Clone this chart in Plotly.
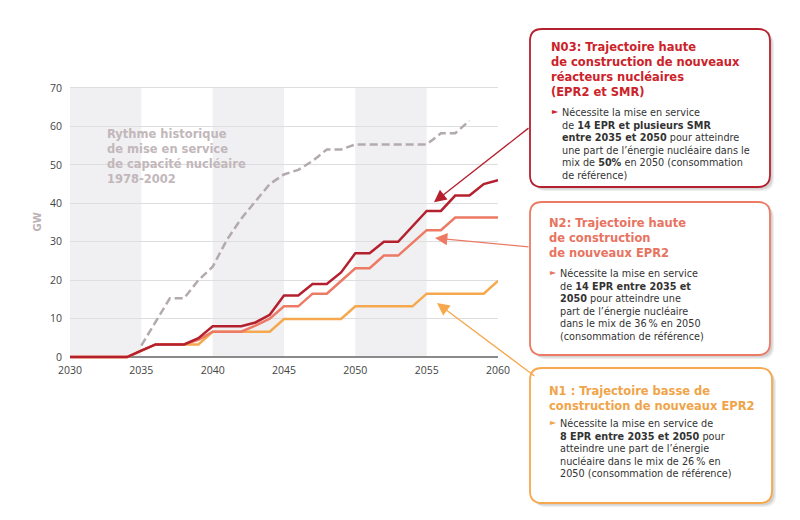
import plotly.graph_objects as go

# trajectories, GW installed per year
years = list(range(2030, 2061))
n1 = [0, 0, 0, 0, 0, 1.65, 3.3, 3.3, 3.3, 3.3, 6.6, 6.6, 6.6, 6.6, 6.6,
      9.9, 9.9, 9.9, 9.9, 9.9, 13.2, 13.2, 13.2, 13.2, 13.2,
      16.5, 16.5, 16.5, 16.5, 16.5, 19.8]
n2 = [0, 0, 0, 0, 0, 1.65, 3.3, 3.3, 3.3, 4.5, 6.6, 6.6, 6.6, 8.2, 10,
      13.2, 13.2, 16.5, 16.5, 19.8, 23.1, 23.1, 26.4, 26.4, 29.7,
      33, 33, 36.3, 36.3, 36.3, 36.3]
n03 = [0, 0, 0, 0, 0, 1.65, 3.3, 3.3, 3.3, 4.9, 8, 8, 8, 9, 11,
       16, 16, 19, 19, 22, 27, 27, 30, 30, 34,
       38, 38, 42, 42, 45, 46]

# historical pace 1978-2002, shifted to start in 2035
hist_years = list(range(2035, 2059))
hist = [3, 9, 15.3, 15.3, 20, 23.5, 30.5, 36, 40.5, 45, 47.5, 48.7, 51, 54, 54,
        55.3, 55.3, 55.3, 55.3, 55.3, 55.3, 58.2, 58.2, 61.5]

x_ticks = [2030, 2035, 2040, 2045, 2050, 2055, 2060]
shaded = [(2030, 2035), (2040, 2045), (2050, 2055)]

DARK = '#b5202e'
SALMON = '#ec7a64'
ORANGE = '#f6a84e'
HIST = '#b3aaae'

# the page body has an 8px margin, so the figure is a bit smaller and
# everything is laid out in window pixels minus that offset
OFF = 8
W, H = 800 - OFF, 520 - OFF
L, T = 70 - OFF, 86 - OFF
PW, PH = 428, 273
R, B = W - L - PW, H - T - PH


def px(x):
    return (x - OFF - L) / PW


def py(y):
    return (T + PH - (y - OFF)) / PH


def dx(x):
    # window pixel x -> data year
    return 2030 + (x - 70) / (PW / 30)


def dy(y):
    # window pixel y -> data GW
    return (357 - y) / 3.843


def rounded(x0, y0, x1, y1, r):
    pts = [('M', x0 + r, y0), ('L', x1 - r, y0), ('Q', x1, y0, x1, y0 + r),
           ('L', x1, y1 - r), ('Q', x1, y1, x1 - r, y1), ('L', x0 + r, y1),
           ('Q', x0, y1, x0, y1 - r), ('L', x0, y0 + r), ('Q', x0, y0, x0 + r, y0)]
    out = ''
    for p in pts:
        coords = p[1:]
        s = []
        for i in range(0, len(coords), 2):
            s.append(f'{px(coords[i]):.5f},{py(coords[i + 1]):.5f}')
        out += p[0] + ' ' + ' '.join(s) + ' '
    return out + 'Z'


fig = go.Figure()

fig.add_trace(go.Scatter(x=hist_years, y=hist, mode='lines',
                         line=dict(color=HIST, width=2.5, dash='8px,4px')))
fig.add_trace(go.Scatter(x=years, y=n1, mode='lines', line=dict(color=ORANGE, width=2.5)))
fig.add_trace(go.Scatter(x=years, y=n2, mode='lines', line=dict(color=SALMON, width=2.5)))
fig.add_trace(go.Scatter(x=years, y=n03, mode='lines', line=dict(color=DARK, width=2.5)))

shapes = []
for a, b in shaded:
    shapes.append(dict(type='rect', xref='x', yref='y', x0=a, x1=b, y0=0, y1=70,
                       fillcolor='#f0eff1', line=dict(width=0), layer='below'))

boxes = [
    ((530, 29, 770, 187), DARK),
    ((530, 202, 770, 355), SALMON),
    ((530, 368, 772, 503), ORANGE),
]
for (x0, y0, x1, y1), col in boxes:
    for off, alpha in [(4, 0.07), (2.5, 0.11)]:
        shapes.append(dict(type='path', xref='paper', yref='paper',
                           path=rounded(x0 + off, y0 + off, x1 + off, y1 + off, 12),
                           fillcolor=f'rgba(0,0,0,{alpha})', line=dict(width=0)))
    shapes.append(dict(type='path', xref='paper', yref='paper',
                       path=rounded(x0, y0, x1, y1, 12),
                       fillcolor='white', line=dict(color=col, width=1.8)))

TITLE_FONT = 'DejaVu Sans'
ann = []


def text(x, y, s, size, color, bold=False):
    ann.append(dict(xref='paper', yref='paper', x=px(x), y=py(y), text=f'<b>{s}</b>' if bold else s,
                    showarrow=False, xanchor='left', yanchor='top', align='left',
                    font=dict(family=TITLE_FONT, size=size, color=color)))


text(105, 124.5, 'Rythme historique<br>de mise en service<br>de capacité nucléaire<br>1978-2002',
     11.5, '#c2b7bb', bold=True)

text(549, 38.5, 'N03: Trajectoire haute<br>de construction de nouveaux<br>réacteurs nucléaires<br>(EPR2 et SMR)',
     11.5, '#cc2229', bold=True)
text(560, 104.7, 'Nécessite la mise en service<br>de <b>14 EPR et plusieurs SMR</b><br>'
     '<b>entre 2035 et 2050</b> pour atteindre<br>une part de l’énergie nucléaire dans le<br>'
     'mix de <b>50%</b> en 2050 (consommation<br>de référence)', 9.7, '#333333')
text(550, 105.2, '►', 8, '#cc2229')

text(547, 213.5, 'N2: Trajectoire haute<br>de construction<br>de nouveaux EPR2',
     11.5, '#e8735f', bold=True)
text(558, 265.7, 'Nécessite la mise en service<br>de <b>14 EPR entre 2035 et</b><br>'
     '<b>2050</b> pour atteindre une<br>part de l’énergie nucléaire<br>'
     'dans le mix de 36\u202f% en 2050<br>(consommation de référence)', 9.7, '#333333')
text(548, 266.2, '►', 8, '#e8735f')

text(547, 381.5, 'N1 : Trajectoire basse de<br>construction de nouveaux EPR2',
     11.5, '#f0a44a', bold=True)
text(558, 415.7, 'Nécessite la mise en service de<br><b>8 EPR entre 2035 et 2050</b> pour<br>'
     'atteindre une part de l’énergie<br>nucléaire dans le mix de 26\u202f% en<br>'
     '2050 (consommation de référence)', 9.7, '#333333')
text(548, 416.2, '►', 8, '#f0a44a')

# axis title
ann.append(dict(xref='paper', yref='paper', x=px(29), y=py(222), text='<b>GW</b>', textangle=-90,
                showarrow=False, font=dict(family=TITLE_FONT, size=10, color='#bbb2b6')))

# pointers from the boxes to the curves
arrows = [
    ((434, 202.3), (530, 127), DARK),
    ((435, 238), (530, 247), SALMON),
    ((437, 303), (536, 377), ORANGE),
]
for (hx, hy), (tx, ty), col in arrows:
    ann.append(dict(xref='x', yref='y', axref='x', ayref='y', x=dx(hx), y=dy(hy),
                    ax=dx(tx), ay=dy(ty), text='', showarrow=True, arrowhead=2,
                    arrowsize=1.9, arrowwidth=1.3, arrowcolor=col, standoff=0))

fig.update_layout(
    width=W, height=H, autosize=False,
    margin=dict(l=L, r=R, t=T, b=B),
    paper_bgcolor='white', plot_bgcolor='white',
    showlegend=False,
    shapes=shapes, annotations=ann,
    font=dict(family='Open Sans', size=10, color='#444444'),
)
fig.update_xaxes(range=[2030, 2060], tickvals=x_ticks, showgrid=False, zeroline=False,
                 showline=False, ticks='', ticklabelstandoff=3,
                 tickfont=dict(size=10.5, color='#444444'))
fig.update_yaxes(range=[-0.5, 70.5], tickvals=[0, 10, 20, 30, 40, 50, 60, 70],
                 showgrid=True, gridcolor='#dedede', gridwidth=1,
                 zeroline=True, zerolinecolor='#8a8a8a', zerolinewidth=1.5,
                 showline=False, ticks='', ticklabelstandoff=7,
                 tickfont=dict(size=10.5, color='#444444'))

fig.write_html('out.html')
